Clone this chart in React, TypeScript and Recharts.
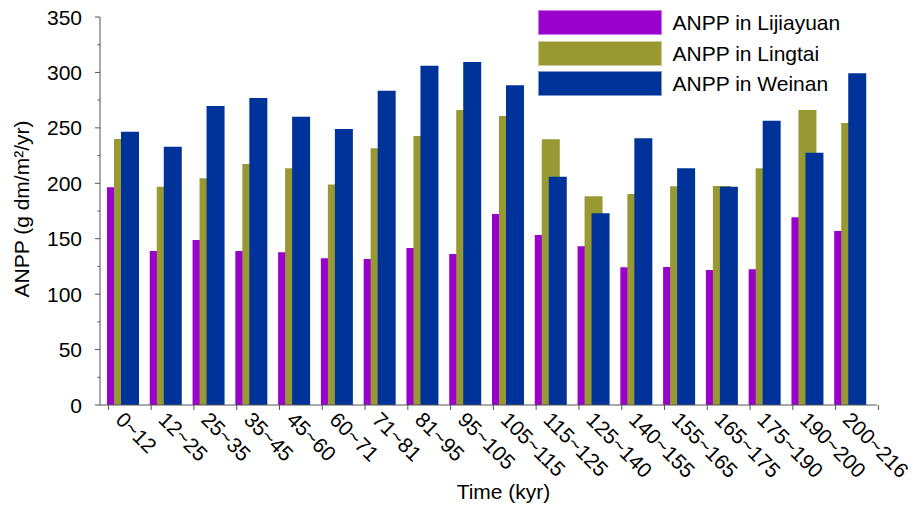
import React from 'react';
import { BarChart, Bar, XAxis, YAxis, Legend, Label } from 'recharts';

// Time slices (kyr) and ANPP (g dm/m²/yr) for the three loess sections
const periods = [
  '0~12', '12~25', '25~35', '35~45', '45~60', '60~71', '71~81', '81~95', '95~105',
  '105~115', '115~125', '125~140', '140~155', '155~165', '165~175', '175~190', '190~200', '200~216',
];
const lijiayuan = [196.5, 139, 148.8, 139, 137.7, 132.3, 131.7, 141.6, 136.2, 172.3, 153.3, 143.1, 124.2, 124.5, 121.8, 122.4, 169.3, 157];
const lingtai = [240, 196.9, 204.5, 217.4, 213.5, 199, 231.5, 242.6, 266, 260.7, 239.7, 188.3, 190.3, 197.3, 197.5, 213.5, 266, 254.4];
const weinan = [246.5, 233, 269.7, 277, 260, 249, 283.5, 306, 309.4, 288.4, 205.9, 172.9, 240.6, 213.5, 196.9, 256.5, 227.6, 299.2];
const valueTicks = [0, 25, 50, 75, 100, 125, 150, 175, 200, 225, 250, 275, 300, 325, 350];

const seriesNames = ['ANPP in Lijiayuan', 'ANPP in Lingtai', 'ANPP in Weinan'];
const seriesColors = ['#9900CC', '#999933', '#003399'];
const seriesEdges = ['#cc77ee', '#cccc99', '#7f99cc'];

const rows = periods.map((p, i) => ({
  period: p,
  lijiayuan: lijiayuan[i],
  lingtai: lingtai[i],
  weinan: weinan[i],
}));

const FONT = '"Liberation Sans", Arial, Helvetica, sans-serif';
const AXIS = '#555555';

const W = 916;
const H = 507;
const MARGIN = { top: 17, right: 39, bottom: 0, left: 0 };
const Y_AXIS_W = 100;
const X_AXIS_H = 102;
const X_PAD = { left: 2, right: 5 };
const STEP = (W - MARGIN.right - Y_AXIS_W - X_PAD.left - X_PAD.right) / periods.length;
const MARK_SHIFT = 15;

function ValueTick(props: any) {
  const { x, y, payload } = props;
  const major = payload.value % 50 === 0;
  return (
    <g>
      <line x1={x - (major ? 5 : 2.5)} x2={x} y1={y} y2={y} stroke={AXIS} strokeWidth={1} />
      {major && (
        <text x={x - 18} y={y} dy="0.36em" textAnchor="end" fontSize={21} fontFamily={FONT} fill="#000">
          {payload.value}
        </text>
      )}
    </g>
  );
}

function PeriodTick(props: any) {
  const { x, y, payload, index } = props;
  const mark = x - MARK_SHIFT;
  const last = index === periods.length - 1;
  const tx = x - 9;
  const ty = y + 16;
  return (
    <g>
      <line x1={mark} x2={mark} y1={y} y2={y + 5} stroke={AXIS} strokeWidth={1} />
      {last && <line x1={mark + STEP} x2={mark + STEP} y1={y} y2={y + 5} stroke={AXIS} strokeWidth={1} />}
      <text x={tx} y={ty} transform={`rotate(45 ${tx} ${ty})`} textAnchor="start" fontSize={21} fontFamily={FONT} fill="#000">
        {payload.value}
      </text>
    </g>
  );
}

function SeriesKey(props: any) {
  const items = props.payload || [];
  return (
    <div style={{ display: 'flex', flexDirection: 'column', gap: 5.5 }}>
      {items.map((it: any, i: number) => (
        <div key={i} style={{ display: 'flex', alignItems: 'center', height: 25 }}>
          <div
            style={{
              width: 124,
              height: 25,
              boxSizing: 'border-box',
              background: seriesColors[i],
              border: `1px solid ${seriesEdges[i]}`,
            }}
          />
          <span style={{ marginLeft: 11, fontSize: 21, lineHeight: '25px', fontFamily: FONT, color: '#000', whiteSpace: 'nowrap' }}>
            {it.value}
          </span>
        </div>
      ))}
    </div>
  );
}

function YTitle(props: any) {
  const vb = props.viewBox;
  const cx = vb.x + 29;
  const cy = vb.y + vb.height / 2 - 2;
  return (
    <text x={cx} y={cy} transform={`rotate(-90 ${cx} ${cy})`} textAnchor="middle" fontSize={21} fontFamily={FONT} fill="#000">
      ANPP (g dm/m²/yr)
    </text>
  );
}

function XTitle(props: any) {
  const vb = props.viewBox;
  return (
    <text x={vb.x + vb.width / 2 + 15} y={vb.y + 94} textAnchor="middle" fontSize={21} fontFamily={FONT} fill="#000">
      Time (kyr)
    </text>
  );
}

export default function App() {
  return (
    <div style={{ position: 'absolute', left: 0, top: 0, width: W, height: H, background: '#fff' }}>
      <BarChart width={W} height={H} data={rows} margin={MARGIN} barSize={18} barGap={-11}>
        <XAxis
          dataKey="period"
          height={X_AXIS_H}
          padding={X_PAD}
          interval={0}
          tickSize={0}
          tickMargin={0}
          tick={<PeriodTick />}
          axisLine={{ stroke: AXIS, strokeWidth: 1 }}
          tickLine={false}
        >
          <Label content={<XTitle />} />
        </XAxis>
        <YAxis
          width={Y_AXIS_W}
          domain={[0, 350]}
          ticks={valueTicks}
          interval={0}
          tickSize={0}
          tickMargin={0}
          tick={<ValueTick />}
          axisLine={{ stroke: AXIS, strokeWidth: 1 }}
          tickLine={false}
        >
          <Label content={<YTitle />} />
        </YAxis>
        <Legend
          layout="vertical"
          align="center"
          verticalAlign="middle"
          content={<SeriesKey />}
          wrapperStyle={{ left: 537.5, top: 10, width: 'auto', height: 'auto' }}
        />
        <Bar dataKey="lijiayuan" name={seriesNames[0]} fill={seriesColors[0]} isAnimationActive={false} />
        <Bar dataKey="lingtai" name={seriesNames[1]} fill={seriesColors[1]} isAnimationActive={false} />
        <Bar dataKey="weinan" name={seriesNames[2]} fill={seriesColors[2]} isAnimationActive={false} />
      </BarChart>
    </div>
  );
}
